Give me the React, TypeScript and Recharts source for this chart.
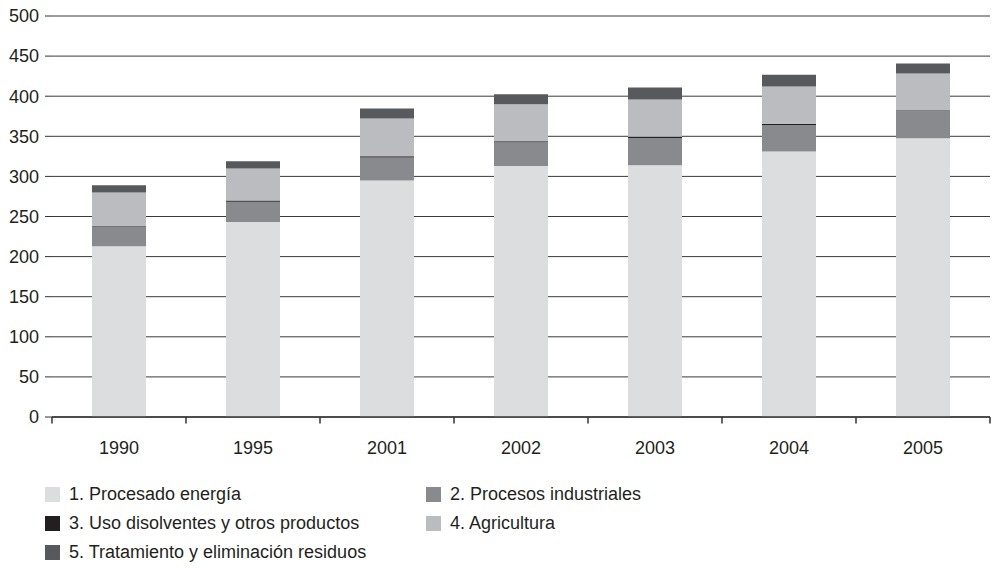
import React from "react";
import { BarChart, Bar, XAxis, YAxis, CartesianGrid } from "recharts";

const years = ["1990", "1995", "2001", "2002", "2003", "2004", "2005"];
const energia = [213, 243, 295, 313, 314, 331, 347.5];
const industriales = [24.5, 25.5, 28.5, 29.5, 34, 33, 35];
const disolventes = [1, 1.3, 1.7, 1.4, 1.5, 1.7, 0.3];
const agricultura = [41.5, 40, 47, 46, 46.5, 46.5, 45.5];
const residuos = [9, 9, 12.5, 12.5, 15, 14.5, 12.5];
const yTicks = [0, 50, 100, 150, 200, 250, 300, 350, 400, 450, 500];

const series = [
  { key: "energia", name: "1. Procesado energía", color: "#dcdddf" },
  { key: "industriales", name: "2. Procesos industriales", color: "#898a8e" },
  { key: "disolventes", name: "3. Uso disolventes y otros productos", color: "#231f20" },
  { key: "agricultura", name: "4. Agricultura", color: "#bbbcbf" },
  { key: "residuos", name: "5. Tratamiento y eliminación residuos", color: "#58595d" },
];

// legend order in the two-column layout
const legendOrder = ["energia", "industriales", "disolventes", "agricultura", "residuos"];

const data = years.map((year, i) => ({
  year,
  energia: energia[i],
  industriales: industriales[i],
  disolventes: disolventes[i],
  agricultura: agricultura[i],
  residuos: residuos[i],
}));

const FONT = "'Liberation Sans', Arial, Helvetica, sans-serif";
const W = 994;
const H = 470;
const MARGIN = { top: 16, right: 4, bottom: 0, left: 0 };
const Y_WIDTH = 52;
const BAND = (W - Y_WIDTH - MARGIN.left - MARGIN.right) / years.length;

function YearTick(props: any) {
  const { x, y, payload, index } = props;
  const left = x - BAND / 2;
  return (
    <g>
      <line x1={left} x2={left} y1={y} y2={y + 6.5} stroke="#333" strokeWidth={1.5} />
      {index === years.length - 1 && (
        <line x1={x + BAND / 2} x2={x + BAND / 2} y1={y} y2={y + 6.5} stroke="#333" strokeWidth={1.5} />
      )}
      <text x={x} y={y + 37} textAnchor="middle" fontSize={18} fill="#231f20" fontFamily={FONT}>
        {payload.value}
      </text>
    </g>
  );
}

function Legend() {
  return (
    <div
      style={{
        position: "absolute",
        left: 45,
        top: 480,
        display: "grid",
        gridTemplateColumns: "381px 300px",
        gridAutoRows: "29px",
        fontFamily: FONT,
        fontSize: 18,
        color: "#231f20",
      }}
    >
      {legendOrder.map((k) => {
        const s = series.find((x) => x.key === k)!;
        return (
          <div key={k} style={{ display: "flex", alignItems: "center", whiteSpace: "nowrap" }}>
            <span style={{ width: 15, height: 15, background: s.color, marginRight: 9, display: "inline-block" }} />
            <span>{s.name}</span>
          </div>
        );
      })}
    </div>
  );
}

export default function App() {
  return (
    <div style={{ position: "absolute", left: 0, top: 0, width: 994, height: 568, background: "#fff" }}>
      <BarChart width={W} height={H} data={data} margin={MARGIN} barSize={54}>
        <CartesianGrid vertical={false} stroke="#3a3a3a" strokeWidth={1} />
        <XAxis
          dataKey="year"
          height={53}
          tickSize={0}
          tickMargin={0}
          tickLine={false}
          axisLine={{ stroke: "#333", strokeWidth: 1.6 }}
          tick={<YearTick />}
          interval={0}
        />
        <YAxis
          width={Y_WIDTH}
          domain={[0, 500]}
          ticks={yTicks}
          interval={0}
          axisLine={false}
          tickSize={7}
          tickMargin={6}
          tickLine={{ stroke: "#333" }}
          tick={{ fontSize: 18, fill: "#231f20", fontFamily: FONT }}
        />
        {series.map((s) => (
          <Bar key={s.key} dataKey={s.key} name={s.name} stackId="a" fill={s.color} isAnimationActive={false} />
        ))}
      </BarChart>
      <Legend />
    </div>
  );
}
